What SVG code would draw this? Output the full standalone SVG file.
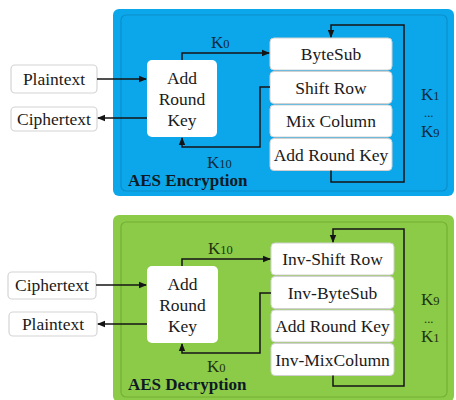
<svg xmlns="http://www.w3.org/2000/svg" width="456" height="400" viewBox="0 0 456 400">
  <style>
    .enc { fill: #0ca7eb; }
    .enc-in { fill: none; stroke: #0b8fcb; stroke-width: 1.2; }
    .dec { fill: #8ccb48; }
    .dec-in { fill: none; stroke: #74b036; stroke-width: 1.2; }
    .io { fill: #ffffff; stroke: #d4d4d4; stroke-width: 1.2; }
    .blk { fill: #ffffff; }
    .row { fill: #ffffff; stroke: #d0d0d0; stroke-width: 1; }
    text { font-family: 'Liberation Serif', 'DejaVu Serif', serif; }
    .lbl { font-size: 17.5px; fill: #1a1a1a; text-anchor: middle; }
    .key { font-size: 17px; }
    .key-e { fill: #0f2a3d; }
    .key-d { fill: #1d3310; }
    .sub { font-size: 12.5px; }
    .title { font-size: 17px; font-weight: bold; fill: #0e1a26; }
    .wire { fill: none; stroke: #141414; stroke-width: 1.5; }
  </style>
  <defs>
    <marker id="arrow" viewBox="0 0 8 8" refX="7" refY="4" markerWidth="8" markerHeight="8" markerUnits="userSpaceOnUse" orient="auto">
      <path d="M0,0.8 L8,4 L0,7.2 Z" fill="#141414"/>
    </marker>
  </defs>

  <!-- encryption panel -->
  <g id="panel-encryption">
    <rect class="enc" x="113" y="9" width="341" height="187" rx="6"/>
    <rect class="enc-in" x="121" y="15" width="326" height="176" rx="5"/>
    <text class="title" x="128" y="186">AES Encryption</text>
  </g>

  <!-- decryption panel -->
  <g id="panel-decryption">
    <rect class="dec" x="113" y="215" width="341" height="187" rx="6"/>
    <rect class="dec-in" x="121" y="222" width="326" height="175" rx="5"/>
    <text class="title" x="128" y="390">AES Decryption</text>
  </g>

  <!-- encryption nodes -->
  <g id="enc-plaintext">
    <rect class="io" x="11" y="65" width="86" height="28" rx="4"/>
    <text class="lbl" x="54" y="85">Plaintext</text>
  </g>
  <g id="enc-ciphertext">
    <rect class="io" x="11" y="107" width="86" height="24" rx="4"/>
    <text class="lbl" x="54" y="125">Ciphertext</text>
  </g>
  <g id="enc-addroundkey">
    <rect class="blk" x="147" y="60" width="70" height="77" rx="5"/>
    <text class="lbl" x="182" y="84">Add</text>
    <text class="lbl" x="182" y="105">Round</text>
    <text class="lbl" x="182" y="126">Key</text>
  </g>
  <g id="enc-rounds">
    <rect class="row" x="270" y="38" width="122" height="32" rx="4"/>
    <text class="lbl" x="331" y="60">ByteSub</text>
    <rect class="row" x="270" y="71.5" width="122" height="32" rx="4"/>
    <text class="lbl" x="331" y="93.5">Shift Row</text>
    <rect class="row" x="270" y="105" width="122" height="32" rx="4"/>
    <text class="lbl" x="331" y="127">Mix Column</text>
    <rect class="row" x="270" y="138.5" width="122" height="32" rx="4"/>
    <text class="lbl" x="331" y="160.5">Add Round Key</text>
  </g>

  <!-- decryption nodes -->
  <g id="dec-ciphertext">
    <rect class="io" x="8" y="272" width="88" height="27" rx="4"/>
    <text class="lbl" x="52" y="291">Ciphertext</text>
  </g>
  <g id="dec-plaintext">
    <rect class="io" x="9" y="312" width="88" height="24" rx="4"/>
    <text class="lbl" x="53" y="330">Plaintext</text>
  </g>
  <g id="dec-addroundkey">
    <rect class="blk" x="147" y="266" width="71" height="77" rx="5"/>
    <text class="lbl" x="182.5" y="290">Add</text>
    <text class="lbl" x="182.5" y="311">Round</text>
    <text class="lbl" x="182.5" y="332">Key</text>
  </g>
  <g id="dec-rounds">
    <rect class="row" x="271" y="243" width="123" height="32" rx="4"/>
    <text class="lbl" x="332.5" y="265">Inv-Shift Row</text>
    <rect class="row" x="271" y="276.5" width="123" height="32" rx="4"/>
    <text class="lbl" x="332.5" y="298.5">Inv-ByteSub</text>
    <rect class="row" x="271" y="310" width="123" height="32" rx="4"/>
    <text class="lbl" x="332.5" y="332">Add Round Key</text>
    <rect class="row" x="271" y="343.5" width="123" height="32" rx="4"/>
    <text class="lbl" x="332.5" y="365.5">Inv-MixColumn</text>
  </g>

  <!-- connectors -->
  <g id="connectors">
    <path class="wire" d="M97,79 H146" marker-end="url(#arrow)"/>
    <path class="wire" d="M147,118 H98" marker-end="url(#arrow)"/>
    <path class="wire" d="M182,60 V53 H269" marker-end="url(#arrow)"/>
    <path class="wire" d="M270,87 H260 V147 H182 V138" marker-end="url(#arrow)"/>
    <path class="wire" d="M331,170.5 V182 H404 V25 H331 V37" marker-end="url(#arrow)"/>

    <path class="wire" d="M96,285 H146" marker-end="url(#arrow)"/>
    <path class="wire" d="M147,324 H98" marker-end="url(#arrow)"/>
    <path class="wire" d="M182,266 V259 H270" marker-end="url(#arrow)"/>
    <path class="wire" d="M271,293 H260 V353 H182 V344" marker-end="url(#arrow)"/>
    <path class="wire" d="M333,375.5 V386 H404 V229 H333 V242" marker-end="url(#arrow)"/>
  </g>

  <!-- round key labels -->
  <g id="enc-keys" class="key key-e">
    <text x="211" y="48">K<tspan class="sub">0</tspan></text>
    <text x="207" y="168">K<tspan class="sub">10</tspan></text>
    <text x="421" y="100">K<tspan class="sub">1</tspan></text>
    <text x="424" y="117" class="sub">...</text>
    <text x="421" y="137">K<tspan class="sub">9</tspan></text>
  </g>
  <g id="dec-keys" class="key key-d">
    <text x="208" y="254">K<tspan class="sub">10</tspan></text>
    <text x="207" y="372">K<tspan class="sub">0</tspan></text>
    <text x="421" y="305">K<tspan class="sub">9</tspan></text>
    <text x="424" y="323" class="sub">...</text>
    <text x="421" y="342">K<tspan class="sub">1</tspan></text>
  </g>
</svg>
